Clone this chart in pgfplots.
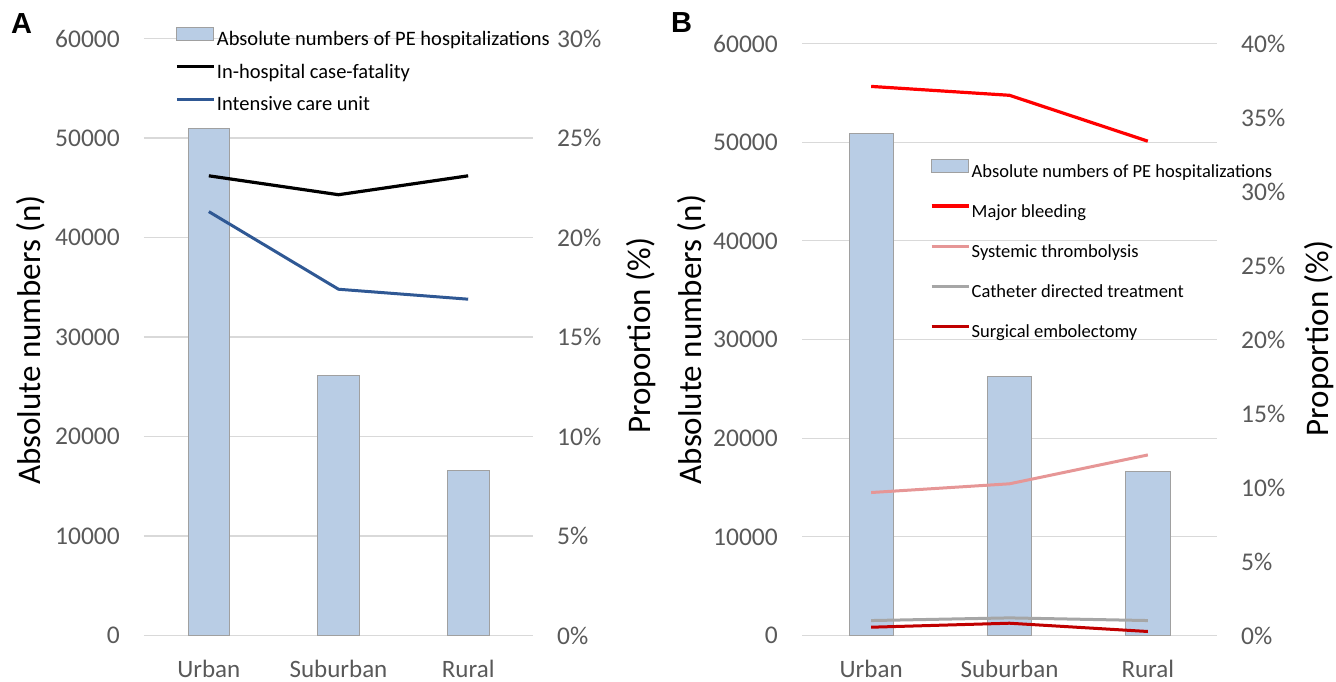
\documentclass[border=0pt]{standalone}
\usepackage{pgfplots}
\pgfplotsset{compat=1.18}
\usepackage{fontspec}
\setmainfont{Carlito}
\newfontfamily\arialf{Liberation Sans}
\definecolor{barfill}{RGB}{185,205,229}
\definecolor{baredge}{RGB}{160,160,160}
\definecolor{gridc}{RGB}{217,217,217}
\definecolor{tickc}{RGB}{89,89,89}
\definecolor{icublue}{RGB}{47,88,148}
\definecolor{pinkc}{RGB}{230,150,150}
\definecolor{grayl}{RGB}{166,166,166}
\definecolor{darkred}{RGB}{192,0,0}
\pgfplotsset{
  common/.style={
    scale only axis, xmin=-0.5, xmax=2.5, scaled y ticks=false,
    axis line style={draw=none}, tick style={draw=none}, major tick length=0pt,
    yticklabel style={font=\fontsize{25.5}{25.5}\selectfont, text=tickc, inner sep=0pt},
    xticklabel style={font=\fontsize{25}{25}\selectfont, text=tickc, anchor=base, yshift=-41.5pt},
    ylabel style={font=\fontsize{33}{33}\selectfont, text=black, anchor=base},
  },
  leftax/.style={
    common, ymin=0, ymax=60000,
    ytick={0,10000,20000,30000,40000,50000,60000},
    yticklabels={0,10000,20000,30000,40000,50000,60000},
    ymajorgrids, grid style={gridc, line width=1.3pt},
    xtick={0,1,2}, xticklabels={Urban,Suburban,Rural},
    yticklabel style={anchor=east, xshift=-24pt},
  },
  rightax/.style={
    common, ymin=0, xtick=\empty, yticklabel pos=right,
    yticklabel style={anchor=west, xshift=24pt},
    legend cell align=left,
  },
  barleg/.style={legend image code/.code={\draw[fill=barfill, draw=baredge, line width=0.8pt] (0pt,0.5pt) rectangle (37pt,13pt);}},
  lineleg/.style={legend image code/.code={\draw[##1] (0pt,6.5pt) -- (37pt,6.5pt);}},
}
\begin{document}
\begin{tikzpicture}
\useasboundingbox (0pt,0pt) rectangle (1336pt,681pt);
% ---------------- Panel A ----------------
\begin{axis}[leftax, at={(144pt,45.5pt)}, anchor=south west, width=389pt, height=597pt,
  ylabel={Absolute numbers (n)},
  ylabel style={at={(axis description cs:-0.265,0.495)}}]
\addplot[ybar, bar width=0.32, fill=barfill, draw=baredge, line width=0.8pt]
  coordinates {(0,51000) (1,26150) (2,16600)};
\end{axis}
\begin{axis}[rightax, at={(144pt,45.5pt)}, anchor=south west, width=389pt, height=597pt,
  ymax=30, ytick={0,5,10,15,20,25,30},
  yticklabels={0\%,5\%,10\%,15\%,20\%,25\%,30\%},
  ylabel={Proportion (\%)},
  ylabel style={at={(axis description cs:1.301,0.502)}},
  legend style={at={(axis description cs:0.0797,1.019)}, anchor=north west, draw=none, fill=none,
    inner sep=0pt, row sep=14.5pt, font=\fontsize{20.5}{20.5}\selectfont,
    nodes={inner xsep=1.5pt, inner ysep=0pt, text height=14pt, text depth=4pt}}]
\addlegendimage{barleg}
\addlegendentry{Absolute numbers of PE hospitalizations}
\addplot[black, line width=3.2pt, lineleg] coordinates {(0,23.1) (1,22.15) (2,23.1)};
\addlegendentry{In-hospital case-fatality}
\addplot[icublue, line width=3pt, lineleg] coordinates {(0,21.3) (1,17.4) (2,16.9)};
\addlegendentry{Intensive care unit}
\end{axis}
\node[font=\arialf\bfseries\fontsize{29}{29}\selectfont, anchor=base west, inner sep=0pt] at (11pt,647pt) {A};
% ---------------- Panel B ----------------
\begin{axis}[leftax, at={(802pt,45.5pt)}, anchor=south west, width=415pt, height=592pt,
  ylabel={Absolute numbers (n)},
  ylabel style={at={(axis description cs:-0.241,0.5)}}]
\addplot[ybar, bar width=0.32, fill=barfill, draw=baredge, line width=0.8pt]
  coordinates {(0,50900) (1,26250) (2,16620)};
\end{axis}
\begin{axis}[rightax, at={(802pt,45.5pt)}, anchor=south west, width=415pt, height=592pt,
  ymax=40, ytick={0,5,10,15,20,25,30,35,40},
  yticklabels={0\%,5\%,10\%,15\%,20\%,25\%,30\%,35\%,40\%},
  ylabel={Proportion (\%)},
  ylabel style={at={(axis description cs:1.2675,0.502)}},
  legend style={at={(axis description cs:0.308,0.805)}, anchor=north west, draw=none, fill=none,
    inner sep=0pt, row sep=23pt, font=\fontsize{18.5}{18.5}\selectfont,
    nodes={inner xsep=1.5pt, inner ysep=0pt, text height=13pt, text depth=4pt}}]
\addlegendimage{barleg}
\addlegendentry{Absolute numbers of PE hospitalizations}
\addplot[red, line width=3.2pt, lineleg] coordinates {(0,37.1) (1,36.5) (2,33.4)};
\addlegendentry{Major bleeding}
\addplot[pinkc, line width=3pt, lineleg] coordinates {(0,9.66) (1,10.25) (2,12.2)};
\addlegendentry{Systemic thrombolysis}
\addplot[grayl, line width=3pt, lineleg] coordinates {(0,1.01) (1,1.19) (2,1.01)};
\addlegendentry{Catheter directed treatment}
\addplot[darkred, line width=3pt, lineleg] coordinates {(0,0.56) (1,0.83) (2,0.27)};
\addlegendentry{Surgical embolectomy}
\end{axis}
\node[font=\arialf\bfseries\fontsize{29}{29}\selectfont, anchor=base west, inner sep=0pt] at (671pt,648pt) {B};
\end{tikzpicture}
\end{document}
